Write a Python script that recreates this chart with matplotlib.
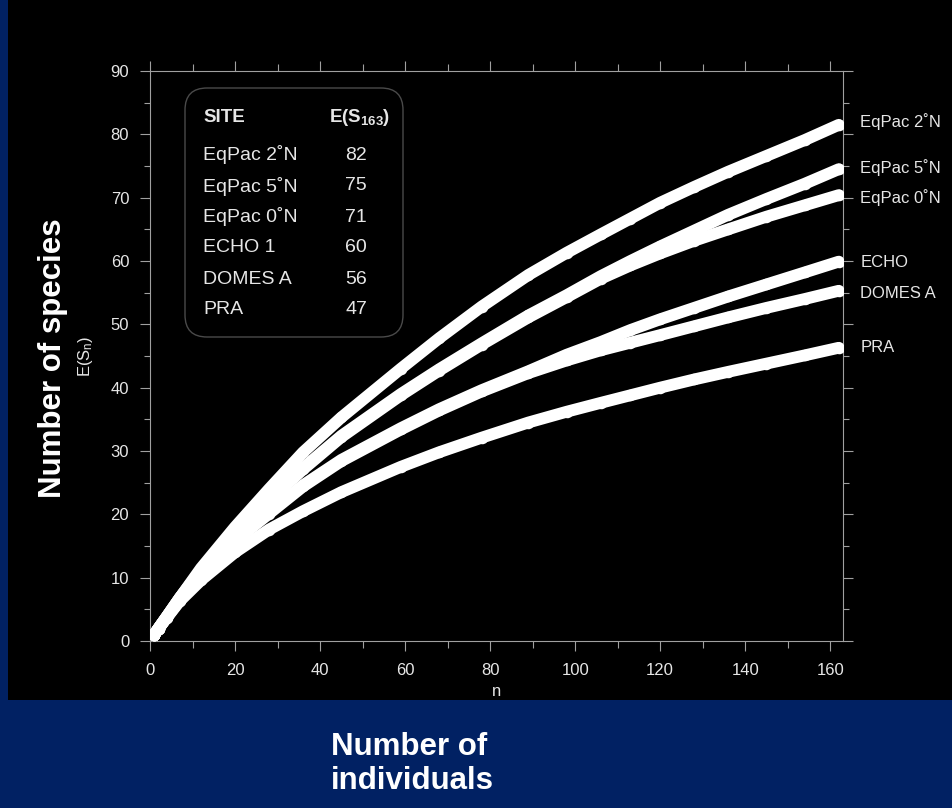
import matplotlib
matplotlib.use("Agg")
import matplotlib.pyplot as plt
from matplotlib.patches import Rectangle, FancyBboxPatch
from matplotlib.transforms import IdentityTransform

plt.rcParams['font.family'] = ['Liberation Sans', 'DejaVu Sans']
plt.rcParams['mathtext.fontset'] = 'custom'
plt.rcParams['mathtext.rm'] = 'Liberation Sans'
plt.rcParams['mathtext.bf'] = 'Liberation Sans:bold'
plt.rcParams['mathtext.it'] = 'Liberation Sans:italic'

# rarefaction curves, values
n = [1, 2, 4, 7, 12, 20, 28, 36, 45, 59, 68, 78, 89, 98, 106, 113, 120, 128, 136, 145, 154, 162]

eqpac2 = [1.0, 2.0, 3.9, 6.8, 11.5, 18.0, 24.0, 29.8, 35.3, 43.0, 47.8, 52.8, 57.8, 61.3,
          64.2, 66.7, 69.2, 71.7, 74.1, 76.6, 79.1, 81.5]
eqpac5 = [1.0, 2.0, 3.9, 6.8, 11.2, 17.3, 22.4, 27.3, 32.4, 39.0, 42.9, 47.0, 51.4, 54.6,
          57.6, 60.0, 62.3, 64.8, 67.3, 69.8, 72.2, 74.5]
eqpac0 = [1.0, 2.0, 3.9, 6.8, 11.1, 17.2, 22.2, 27.1, 32.2, 38.8, 42.7, 46.8, 51.1, 54.3,
          57.2, 59.3, 61.2, 63.2, 65.0, 67.0, 68.8, 70.4]
echo = [1.0, 1.95, 3.8, 6.5, 10.4, 15.9, 20.3, 24.6, 28.6, 33.6, 36.6, 39.6, 42.6, 45.2,
        47.2, 49.1, 50.8, 52.6, 54.4, 56.3, 58.2, 59.9]
domes = [1.0, 1.95, 3.8, 6.5, 10.4, 15.8, 20.1, 24.4, 28.4, 33.4, 36.4, 39.4, 42.3, 44.3,
         45.9, 47.1, 48.3, 49.7, 51.1, 52.6, 54.0, 55.3]
pra = [1.0, 1.95, 3.7, 6.3, 9.6, 14.0, 17.6, 20.5, 23.5, 27.5, 29.8, 32.1, 34.5, 36.2,
       37.6, 38.8, 40.0, 41.3, 42.5, 43.8, 45.1, 46.3]

curves = [eqpac2, eqpac5, eqpac0, echo, domes, pra]
end_labels = ['EqPac 2˚N', 'EqPac 5˚N', 'EqPac 0˚N', 'ECHO', 'DOMES A', 'PRA']
label_y = [82.0, 74.7, 70.1, 59.8, 54.9, 46.4]

sites = ['EqPac 2˚N', 'EqPac 5˚N', 'EqPac 0˚N', 'ECHO 1', 'DOMES A', 'PRA']
es163 = [82, 75, 71, 60, 56, 47]

W, H = 952, 808
navy = '#012163'
grey = '#a0a0a0'
txt = '#e6e6e6'


def px(x, y):
    return x / W, 1 - y / H


fig = plt.figure(figsize=(W / 100, H / 100), dpi=100, facecolor=navy)
# black slide panel
fig.patches.append(Rectangle((8 / W, 1 - 700 / H), 1, 700 / H, transform=fig.transFigure,
                             facecolor='black', edgecolor='none', zorder=-10))

ax = fig.add_axes([150 / W, 1 - 641 / H, 693 / W, 570 / H])
ax.set_facecolor('black')

for ys in curves:
    ax.plot(n, ys, color='white', lw=8.5, solid_capstyle='round', solid_joinstyle='round',
            marker='o', ms=8.3, mec='white', mew=0, mfc='white', zorder=3)

ax.set_xlim(0, 163)
ax.set_ylim(0, 90)
ax.set_xticks(range(0, 161, 20))
ax.set_xticks(range(0, 161, 10), minor=True)
ax.set_yticks(range(0, 91, 10))
ax.set_yticks(range(0, 91, 5), minor=True)

for s in ax.spines.values():
    s.set_color(grey)
    s.set_linewidth(0.8)

ax.tick_params(which='both', direction='out', color=grey, width=0.8, labelcolor=txt, labelsize=12)
ax.tick_params(axis='y', which='major', length=7, pad=8)
ax.tick_params(axis='y', which='minor', length=4)
ax.tick_params(axis='x', which='major', length=7, pad=9)
ax.tick_params(axis='x', which='minor', length=5)
ax.tick_params(axis='x', which='both', top=True, labeltop=False)
ax.tick_params(axis='y', which='both', right=True, labelright=False)

ax.set_xlabel('n', color=txt, fontsize=12, labelpad=4)
ax.set_ylabel('E(S$_{\\mathrm{n}}$)', color=txt, fontsize=12, labelpad=11)

# labels at the curve ends
for lab, ly in zip(end_labels, label_y):
    ax.text(1.025, ly, lab, transform=ax.get_yaxis_transform(), color=txt, fontsize=12,
            va='center', ha='left', clip_on=False)

# rounded box with the site table
box = FancyBboxPatch((185, H - 337), 218, 249, boxstyle='round,pad=0,rounding_size=22',
                     transform=IdentityTransform(), facecolor='black', edgecolor='#4a4a4a',
                     lw=1.0, zorder=4, clip_on=False)
ax.add_patch(box)
fig.text(*px(203, 117), 'SITE', color=txt, fontsize=13.5, fontweight='bold',
         ha='left', va='center', zorder=5)
fig.text(*px(390, 117), 'E(S$_{\\mathbf{163}}$)', color=txt, fontsize=13.5, fontweight='bold',
         ha='right', va='center', zorder=5)
for i, (site, v) in enumerate(zip(sites, es163)):
    yy = 155 + i * 31
    fig.text(*px(203, yy), site, color=txt, fontsize=14, ha='left', va='center', zorder=5)
    fig.text(*px(356, yy), str(v), color=txt, fontsize=14, ha='center', va='center', zorder=5)

fig.text(*px(53, 358), 'Number of species', color='white', fontsize=22.5, fontweight='bold',
         rotation=90, ha='center', va='center')
fig.text(*px(331, 764), 'Number of\nindividuals', color='white', fontsize=22.5,
         fontweight='bold', ha='left', va='center', linespacing=1.15)

fig.savefig('out.png', dpi=100, facecolor=navy)
